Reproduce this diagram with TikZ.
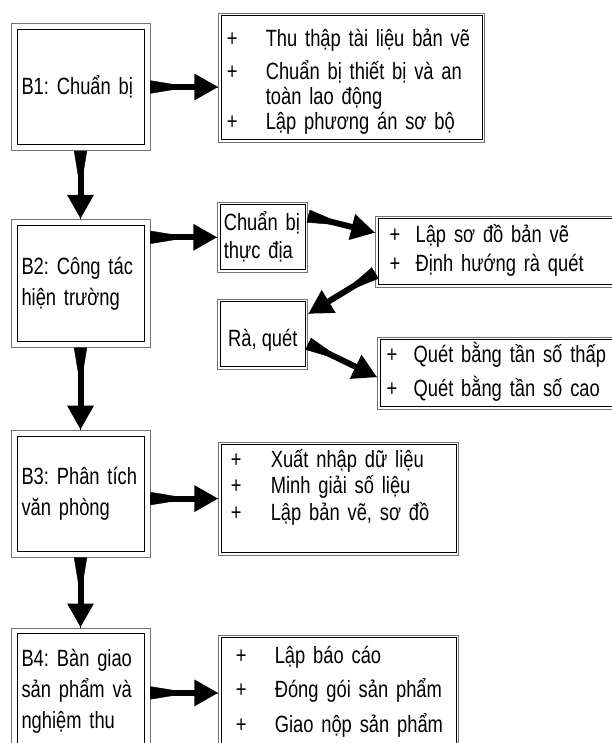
\documentclass[tikz,border=0pt]{standalone}
\usepackage{fontspec}
\setmainfont{Liberation Sans}[FakeStretch=0.78]
\frenchspacing
\usetikzlibrary{arrows.meta,positioning}
\tikzset{
  stagebox/.style={rectangle, draw=black!55, line width=0.8pt, minimum width=139pt,
    minimum height=127pt, inner sep=0pt, text width=118pt, align=left,
    font=\fontsize{23.5}{31}\selectfont,
    path picture={\draw[black, line width=0.9pt]
      ([shift={(6pt,6pt)}]path picture bounding box.south west) rectangle
      ([shift={(-6pt,-6pt)}]path picture bounding box.north east);}},
  itembox/.style={rectangle, draw=black!55, line width=0.8pt, inner ysep=0pt,
    align=left, font=\fontsize{23.5}{25}\selectfont,
    path picture={\draw[black, line width=0.7pt]
      ([shift={(2.5pt,2.5pt)}]path picture bounding box.south west) rectangle
      ([shift={(-2.5pt,-2.5pt)}]path picture bounding box.north east);}},
  flow/.style={line width=6pt, -{Triangle[length=24pt,width=25pt]},
    postaction={draw, line width=0.4pt,
      arrows={{Triangle[reversed,length=40pt,width=13pt]}-}}}
}
\begin{document}
\begin{tikzpicture}[node distance=68pt]
  \useasboundingbox (0,0) rectangle (612pt,-743pt);
  \clip (0,0) rectangle (612pt,-743pt);
  % stages
  \node[stagebox] (b1) at (80.5pt,-87pt) {B1: Chuẩn bị};
  \node[stagebox,below=68pt of b1,minimum height=128pt] (b2) {B2: Công tác\\hiện trường};
  \node[stagebox,below=82pt of b2] (b3) {B3: Phân tích\\văn phòng};
  \node[stagebox,below=70pt of b3] (b4) {B4: Bàn giao\\sản phẩm và\\nghiệm thu};
  % tasks
  \node[itembox,right=68pt of b1,yshift=9.5pt,minimum width=266pt,minimum height=129pt,
    inner xsep=8pt,text width=250pt] (r1) {\begin{tabular}{@{}p{39pt}@{}l@{}}
    +\rule{0pt}{28.5pt} & Thu thập tài liệu bản vẽ\\[6pt]
    + & Chuẩn bị thiết bị và an\\
      & toàn lao động\\
    + & Lập phương án sơ bộ\end{tabular}};
  \node[itembox,right=67pt of b2,yshift=46pt,minimum width=90pt,minimum height=70pt,
    inner xsep=6pt,text width=78pt,font=\fontsize{23.5}{28}\selectfont] (c) {Chuẩn bị\\thực địa};
  \node[itembox,below=26pt of c,minimum width=90pt,minimum height=70pt,
    text height=30pt,text depth=5pt] (rq) {Rà, quét};
  \node[itembox,right=67pt of c,yshift=-14.5pt,minimum width=240pt,minimum height=71pt,
    inner xsep=14pt,text width=212pt] (l) {\begin{tabular}{@{}p{26pt}@{}l@{}}
    + & Lập sơ đồ bản vẽ\\[4pt]
    + & Định hướng rà quét\end{tabular}};
  \node[itembox,right=69pt of rq,yshift=-39pt,minimum width=238pt,minimum height=72pt,
    inner xsep=9pt,text width=220pt] (q) {\begin{tabular}{@{}p{27pt}@{}l@{}}
    + & Quét bằng tần số thấp\\[6pt]
    + & Quét bằng tần số cao\end{tabular}};
  \node[itembox,right=68pt of b3,yshift=-5pt,minimum width=240pt,minimum height=113pt,
    inner xsep=12pt,text width=216pt] (r3) {\begin{tabular}{@{}p{40pt}@{}l@{}}
    + & Xuất nhập dữ liệu\\[1pt]
    + & Minh giải số liệu\\[1pt]
    + & Lập bản vẽ, sơ đồ\rule[-27.5pt]{0pt}{27.5pt}\end{tabular}};
  \node[itembox,right=68pt of b4,yshift=-1.5pt,minimum width=240pt,minimum height=116pt,
    inner xsep=17pt,text width=206pt] (r4) {\begin{tabular}{@{}p{39pt}@{}l@{}}
    + & Lập báo cáo\\[8pt]
    + & Đóng gói sản phẩm\\[8pt]
    + & Giao nộp sản phẩm\end{tabular}};
  % arrows
  \draw[flow] (b1) -- (b2);
  \draw[flow] (b2) -- (b3);
  \draw[flow] (b3) -- (b4);
  \draw[flow] (b1.east) -- (b1.east -| r1.west);
  \draw[flow] (b2.east |- c.west) -- (c.west);
  \draw[flow] (c.25) -- (l.171);
  \draw[flow] (l.190) -- (rq.24);
  \draw[flow] (rq.-12) -- (q.182);
  \draw[flow] (b3.east |- r3.west) -- (r3.west);
  \draw[flow] (b4.east |- r4.west) -- (r4.west);
\end{tikzpicture}
\end{document}
